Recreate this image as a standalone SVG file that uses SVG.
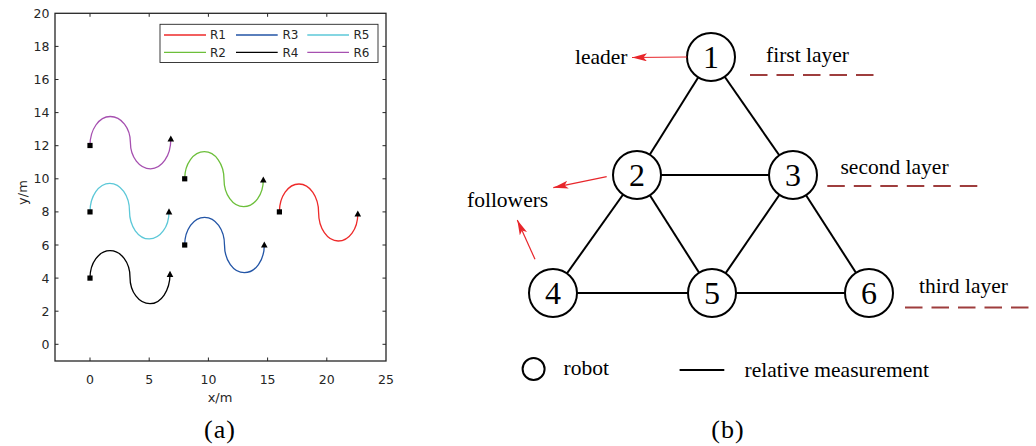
<svg xmlns="http://www.w3.org/2000/svg" width="1036" height="446" viewBox="0 0 1036 446">
<style>
.ax{font-family:"DejaVu Sans",sans-serif;font-size:12.5px;fill:#262626}
.lg{font-family:"DejaVu Sans",sans-serif;font-size:12px;fill:#262626}
.axl{font-family:"DejaVu Sans",sans-serif;font-size:13px;fill:#262626}
.tr{font-family:"Liberation Serif",serif;font-size:21.5px;fill:#000}
.num{font-family:"Liberation Serif",serif;font-size:32px;fill:#000;text-anchor:middle}
.cap{font-family:"Liberation Serif",serif;font-size:26px;fill:#000;text-anchor:middle}
.traj{fill:none;stroke-width:1.3}
.tick{stroke:#262626;stroke-width:1}
.edge{stroke:#000;stroke-width:2}
.node{fill:#fff;stroke:#000;stroke-width:2}
.layer{stroke:#9e3d3d;stroke-width:2;stroke-dasharray:17.5 9;fill:none}
.red{stroke:#e8262b;stroke-width:1.2;fill:none;marker-end:url(#ah)}
</style>
<defs>
<marker id="ah" viewBox="0 0 15 8" refX="15" refY="4" markerWidth="15" markerHeight="8" markerUnits="userSpaceOnUse" orient="auto">
<path d="M0,0 L15,4 L0,8 L3.5,4 z" fill="#e8262b"/>
</marker>
<rect id="sq" x="-2.6" y="-2.6" width="5.2" height="5.2" fill="#000"/>
<path id="tri" d="M0,-3.6 L3.3,2.6 L-3.3,2.6 z" fill="#000"/>
</defs>
<rect width="1036" height="446" fill="#fff"/>

<!-- (a) plot -->
<g id="plot-a">
<rect x="55" y="13.3" width="331" height="347.7" fill="none" stroke="#262626" stroke-width="1.3"/>
<g id="ticks">
<path class="tick" d="M90,361v-3.5M149.2,361v-3.5M208.4,361v-3.5M267.6,361v-3.5M326.8,361v-3.5M90,13.3v3.5M149.2,13.3v3.5M208.4,13.3v3.5M267.6,13.3v3.5M326.8,13.3v3.5"/>
<path class="tick" d="M55,344.3h3.5M55,311.2h3.5M55,278.1h3.5M55,245h3.5M55,211.9h3.5M55,178.8h3.5M55,145.7h3.5M55,112.6h3.5M55,79.5h3.5M55,46.4h3.5M386,344.3h-3.5M386,311.2h-3.5M386,278.1h-3.5M386,245h-3.5M386,211.9h-3.5M386,178.8h-3.5M386,145.7h-3.5M386,112.6h-3.5M386,79.5h-3.5M386,46.4h-3.5"/>
</g>
<g id="ylabels" class="ax" text-anchor="end">
<text x="49.5" y="348.8">0</text>
<text x="49.5" y="315.7">2</text>
<text x="49.5" y="282.6">4</text>
<text x="49.5" y="249.5">6</text>
<text x="49.5" y="216.4">8</text>
<text x="49.5" y="183.3">10</text>
<text x="49.5" y="150.2">12</text>
<text x="49.5" y="117.1">14</text>
<text x="49.5" y="84">16</text>
<text x="49.5" y="50.9">18</text>
<text x="49.5" y="17.8">20</text>
</g>
<g id="xlabels" class="ax" text-anchor="middle">
<text x="90" y="383.7">0</text>
<text x="149.2" y="383.7">5</text>
<text x="208.4" y="383.7">10</text>
<text x="267.6" y="383.7">15</text>
<text x="326.8" y="383.7">20</text>
<text x="386" y="383.7">25</text>
</g>
<text class="axl" x="220" y="401.5" text-anchor="middle">x/m</text>
<text class="axl" transform="translate(27,192.5) rotate(-90)" text-anchor="middle">y/m</text>

<g id="trajectories">
<path id="R1" class="traj" stroke="#ee2a2a" d="M279.4,211.9 c0,-15.4 8.78,-27.9 19.6,-27.9 c10.82,0 19.6,12.77 19.6,28.5 c0,15.73 8.78,28.5 19.6,28.5 c10.82,0 19.6,-12.1 19.6,-27"/>
<path id="R2" class="traj" stroke="#6cbf3a" d="M184.7,178.8 c0,-14.96 8.8,-27.1 19.65,-27.1 c10.85,0 19.65,12.32 19.65,27.5 c0,15.18 8.8,27.5 19.65,27.5 c10.85,0 19.65,-11.96 19.65,-26.7"/>
<path id="R3" class="traj" stroke="#2355a6" d="M184.7,245 c0,-15.29 8.92,-27.7 19.9,-27.7 c10.98,0 19.9,12.41 19.9,27.7 c0,15.29 8.92,27.7 19.9,27.7 c10.98,0 19.9,-12.41 19.9,-27.7"/>
<path id="R4" class="traj" stroke="#000" d="M90,278.1 c0,-15.1 8.96,-27.4 20,-27.4 c11.04,0 20,11.87 20,26.5 c0,14.63 8.96,26.5 20,26.5 c11.04,0 20,-13.26 20,-29.6"/>
<path id="R5" class="traj" stroke="#5cc8d8" d="M90,211.9 c0,-15.8 8.85,-28.6 19.75,-28.6 c10.9,0 19.75,12.45 19.75,27.8 c0,15.35 8.85,27.8 19.75,27.8 c10.9,0 19.75,-12.1 19.75,-27"/>
<path id="R6" class="traj" stroke="#a650b0" d="M90,145.5 c0,-16 9.05,-29 20.2,-29 c11.15,0 20.2,11.65 20.2,26 c0,14.5 9.05,26.3 20.2,26.3 c11.15,0 20.2,-13.1 20.2,-29.3"/>
</g>
<g id="start-end-markers">
<use href="#sq" x="279.4" y="211.9"/>
<use href="#sq" x="184.7" y="178.8"/>
<use href="#sq" x="184.7" y="245"/>
<use href="#sq" x="90" y="278.1"/>
<use href="#sq" x="90" y="211.9"/>
<use href="#sq" x="90" y="145.5"/>
<use href="#tri" x="357.8" y="214"/>
<use href="#tri" x="263.3" y="180"/>
<use href="#tri" x="264.3" y="245"/>
<use href="#tri" x="170" y="274.3"/>
<use href="#tri" x="169" y="211.9"/>
<use href="#tri" x="170.8" y="139"/>
</g>
<g id="legend">
<rect x="160" y="24.3" width="218" height="38.2" fill="#fff" stroke="#262626" stroke-width="0.9"/>
<line x1="164" y1="35" x2="206" y2="35" stroke="#ee2a2a" stroke-width="1.3"/>
<line x1="236" y1="35" x2="277.7" y2="35" stroke="#2355a6" stroke-width="1.3"/>
<line x1="307.3" y1="35" x2="349" y2="35" stroke="#5cc8d8" stroke-width="1.3"/>
<line x1="164" y1="52.3" x2="206" y2="52.3" stroke="#6cbf3a" stroke-width="1.3"/>
<line x1="236" y1="52.3" x2="277.7" y2="52.3" stroke="#000" stroke-width="1.3"/>
<line x1="307.3" y1="52.3" x2="349" y2="52.3" stroke="#a650b0" stroke-width="1.3"/>
<text class="lg" x="210" y="39.4">R1</text>
<text class="lg" x="282.5" y="39.4">R3</text>
<text class="lg" x="353.5" y="39.4">R5</text>
<text class="lg" x="210" y="56.7">R2</text>
<text class="lg" x="282.5" y="56.7">R4</text>
<text class="lg" x="353.5" y="56.7">R6</text>
</g>
</g>
<text class="cap" x="220" y="438" letter-spacing="1">(a)</text>

<!-- (b) graph -->
<g id="connectors">
<line class="edge" x1="711" y1="57" x2="637" y2="175"/>
<line class="edge" x1="711" y1="57" x2="793" y2="175"/>
<line class="edge" x1="637" y1="175" x2="793" y2="175"/>
<line class="edge" x1="637" y1="175" x2="553" y2="293"/>
<line class="edge" x1="637" y1="175" x2="712" y2="293"/>
<line class="edge" x1="793" y1="175" x2="712" y2="293"/>
<line class="edge" x1="793" y1="175" x2="869" y2="293"/>
<line class="edge" x1="553" y1="293" x2="712" y2="293"/>
<line class="edge" x1="712" y1="293" x2="869" y2="293"/>
</g>
<g id="node1"><circle class="node" cx="711" cy="57" r="24"/><text class="num" x="711" y="68">1</text></g>
<g id="node2"><circle class="node" cx="637" cy="175" r="24"/><text class="num" x="637" y="186">2</text></g>
<g id="node3"><circle class="node" cx="793" cy="175" r="24"/><text class="num" x="793" y="186">3</text></g>
<g id="node4"><circle class="node" cx="553" cy="293" r="24"/><text class="num" x="553" y="304">4</text></g>
<g id="node5"><circle class="node" cx="712" cy="293" r="24"/><text class="num" x="712" y="304">5</text></g>
<g id="node6"><circle class="node" cx="869" cy="293" r="24"/><text class="num" x="869" y="304">6</text></g>

<g id="annotations">
<path class="red" d="M687,57 L632,57.5"/>
<path class="red" d="M606.7,176.7 L553.3,187.7"/>
<path class="red" d="M535,259.3 L517.3,220"/>
<text class="tr" x="575" y="64">leader</text>
<text class="tr" x="467" y="206.5">followers</text>
<text class="tr" x="766" y="62">first layer</text>
<text class="tr" x="840.5" y="174">second layer</text>
<text class="tr" x="919" y="293">third layer</text>
<line class="layer" x1="750" y1="75" x2="873.5" y2="75"/>
<line class="layer" x1="827.3" y1="186" x2="977.3" y2="186"/>
<line class="layer" x1="905" y1="307.5" x2="1036" y2="307.5"/>
</g>
<g id="key">
<circle class="node" cx="533.6" cy="369" r="11"/>
<text class="tr" x="563.5" y="375">robot</text>
<line class="edge" x1="679.6" y1="370" x2="724.3" y2="370"/>
<text class="tr" x="744.5" y="376.5">relative measurement</text>
</g>
<text class="cap" x="728" y="438" letter-spacing="1">(b)</text>
</svg>
